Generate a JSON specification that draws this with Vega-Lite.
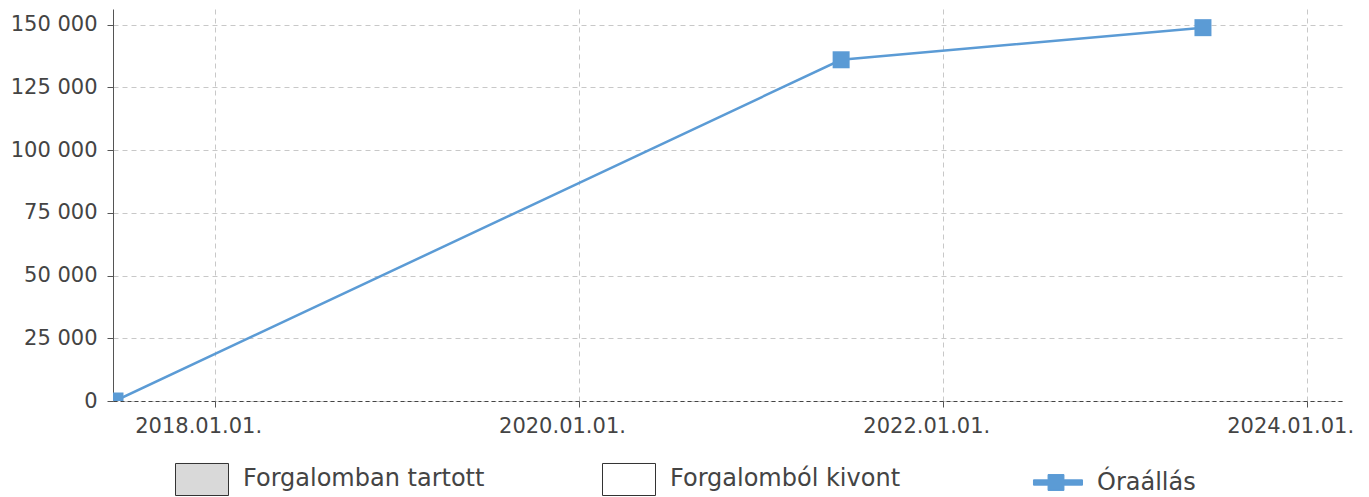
{
  "$schema": "https://vega.github.io/schema/vega-lite/v6.json",
  "autosize": "none",
  "width": 1230,
  "height": 392,
  "padding": {"left": 113, "top": 9, "right": 26, "bottom": 96},
  "background": "white",
  "config": {
    "font": "DejaVu Sans",
    "view": {"stroke": null},
    "locale": {"number": {"decimal": ",", "thousands": " ", "grouping": [3], "currency": ["", ""]}}
  },
  "datasets": {
    "ora": [
      {"date": "2017-06-14", "km": 0, "series": "Óraállás"},
      {"date": "2021-06-10", "km": 136000, "series": "Óraállás"},
      {"date": "2023-06-06", "km": 148800, "series": "Óraállás"}
    ],
    "minor": [
      {"date": "2017-12-02"}, {"date": "2018-08-07"}, {"date": "2019-04-15"},
      {"date": "2019-12-20"}, {"date": "2020-08-27"}, {"date": "2021-05-05"},
      {"date": "2022-01-09"}, {"date": "2022-09-16"}, {"date": "2023-05-25"},
      {"date": "2024-01-31"}
    ]
  },
  "layer": [
    {
      "data": {"name": "minor"},
      "mark": {"type": "rule", "color": "#ebebeb", "strokeDash": [4, 6], "strokeWidth": 1},
      "encoding": {
        "x": {"field": "date", "type": "temporal"}
      }
    },
    {
      "data": {"name": "ora"},
      "mark": {"type": "line", "strokeWidth": 2.5, "clip": true},
      "encoding": {
        "x": {"field": "date", "type": "temporal"},
        "y": {"field": "km", "type": "quantitative"},
        "color": {
          "field": "series", "type": "nominal",
          "scale": {"domain": ["Forgalomban tartott", "Forgalomból kivont", "Óraállás"], "range": ["#333333", "#333333", "#5b9bd5"]},
          "legend": {
            "title": null,
            "orient": "none",
            "legendX": 62,
            "legendY": 443,
            "direction": "horizontal",
            "columns": 3,
            "gridAlign": "all",
            "columnPadding": 115,
            "padding": 0,
            "symbolSize": 2809,
            "symbolStrokeWidth": 1,
            "labelFontSize": 24,
            "labelColor": "#444444",
            "labelOffset": 14,
            "labelLimit": 400,
            "encode": {
              "symbols": {
                "update": {
                  "shape": {"signal": "datum.value === 'Óraállás' ? 'M-0.85,-0.1H-0.3V-0.3H0.3V-0.1H1V0.1H0.3V0.3H-0.3V0.1H-0.85Z' : 'M-1,-0.604H1V0.604H-1Z'"},
                  "fill": {"signal": "datum.value === 'Óraállás' ? '#5b9bd5' : (datum.value === 'Forgalomban tartott' ? '#d9d9d9' : '#ffffff')"},
                  "fillOpacity": {"value": 1},
                  "strokeWidth": {"value": 1},
                  "opacity": {"value": 1}
                }
              }
            }
          }
        }
      }
    },
    {
      "data": {"name": "ora"},
      "mark": {"type": "point", "shape": "square", "filled": true, "color": "#5b9bd5", "opacity": 1, "size": 289, "clip": true},
      "encoding": {
        "x": {"field": "date", "type": "temporal"},
        "y": {"field": "km", "type": "quantitative"}
      }
    }
  ],
  "encoding": {
    "x": {
      "field": "date", "type": "temporal",
      "scale": {"type": "utc", "domain": [{"year": 2017, "month": 6, "date": 10, "utc": true}, {"year": 2024, "month": 3, "date": 13, "utc": true}], "nice": false},
      "axis": {
        "title": null,
        "values": [{"year": 2018, "month": 1, "date": 1, "utc": true}, {"year": 2020, "month": 1, "date": 1, "utc": true}, {"year": 2022, "month": 1, "date": 1, "utc": true}, {"year": 2024, "month": 1, "date": 1, "utc": true}],
        "format": "%Y.%m.%d.",
        "labelFontSize": 21,
        "labelColor": "#444444",
        "labelPadding": 8,
        "labelOffset": -17,
        "tickSize": 6,
        "tickColor": "#555555",
        "domainColor": "#444444",
        "domainDash": [4, 3],
        "grid": true,
        "gridColor": "#c8c8c8",
        "gridDash": [5, 4],
        "labelFlush": false
      }
    },
    "y": {
      "field": "km", "type": "quantitative",
      "scale": {"domain": [0, 156240], "nice": false, "zero": true},
      "axis": {
        "title": null,
        "values": [0, 25000, 50000, 75000, 100000, 125000, 150000],
        "format": ",d",
        "labelFontSize": 21,
        "labelColor": "#444444",
        "labelPadding": 10,
        "tickSize": 6,
        "tickColor": "#555555",
        "domainColor": "#555555",
        "grid": true,
        "gridColor": "#c8c8c8",
        "gridDash": [5, 4]
      }
    }
  }
}
